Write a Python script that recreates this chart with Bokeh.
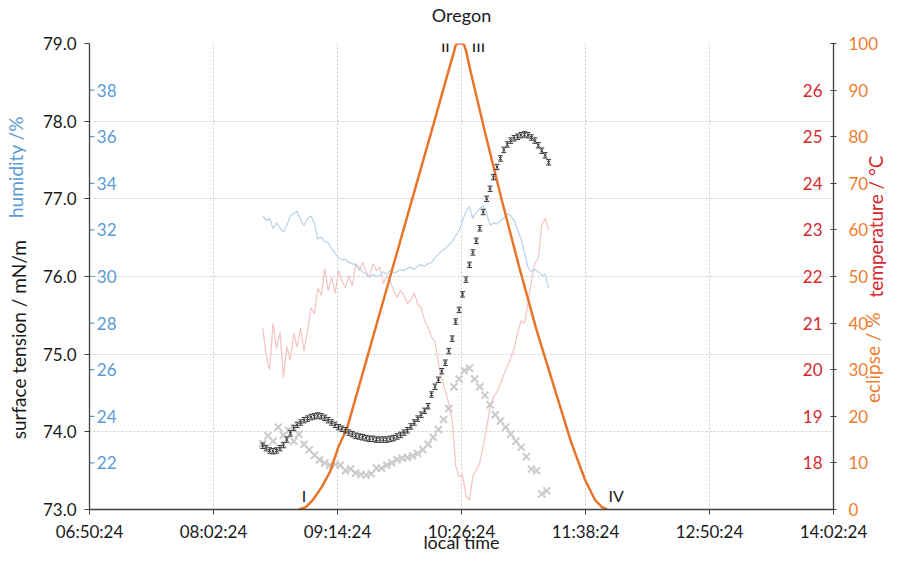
import numpy as np
import pandas as pd
from math import pi
from bokeh.plotting import figure
from bokeh.models import (Range1d, LinearAxis, FixedTicker, DatetimeTickFormatter,
                          NumeralTickFormatter, Label, Whisker, TeeHead, ColumnDataSource)
from bokeh.core.properties import value
from bokeh.embed import file_html
from bokeh.resources import INLINE

DAY = "2017-08-21"
FONT = "Lato"

# ---------------- data ----------------
x_tick_labels = ["06:50:24", "08:02:24", "09:14:24", "10:26:24", "11:38:24", "12:50:24", "14:02:24"]
st_ticks = [73, 74, 75, 76, 77, 78, 79]
hum_ticks = [22, 24, 26, 28, 30, 32, 34, 36, 38]
temp_ticks = [18, 19, 20, 21, 22, 23, 24, 25, 26]
ecl_ticks = [0, 10, 20, 30, 40, 50, 60, 70, 80, 90, 100]

# surface tension (mN/m), sampled every 2 min from 08:31
st_start, st_freq = "08:31", "2min"
st_vals = [73.82, 73.79, 73.76, 73.75, 73.76, 73.79, 73.83, 73.90, 73.98, 74.05,
           74.09, 74.12, 74.15, 74.17, 74.19, 74.20, 74.21, 74.20, 74.18, 74.15,
           74.12, 74.09, 74.06, 74.04, 74.02, 73.99, 73.97, 73.95, 73.94, 73.93,
           73.92, 73.91, 73.91, 73.90, 73.90, 73.90, 73.90, 73.91, 73.92, 73.94,
           73.96, 73.99, 74.02, 74.07, 74.12, 74.17, 74.22, 74.27, 74.33, 74.48,
           74.58, 74.67, 74.78, 74.89, 75.04, 75.20, 75.42, 75.57, 75.77, 75.96,
           76.15, 76.31, 76.46, 76.62, 76.83, 77.00, 77.13, 77.28, 77.41, 77.52,
           77.63, 77.70, 77.75, 77.78, 77.80, 77.82, 77.83, 77.82, 77.79, 77.75,
           77.69, 77.62, 77.56, 77.47]
st_err = 0.035

# second surface tension series (grey crosses), every 3 min from 08:31
st2_start, st2_freq = "08:31", "3min"
st2_vals = [73.85, 73.95, 73.88, 74.06, 73.96, 74.02, 73.88, 73.97, 73.84, 73.77,
            73.70, 73.64, 73.60, 73.57, 73.58, 73.57, 73.50, 73.52, 73.47, 73.45,
            73.44, 73.46, 73.53, 73.53, 73.57, 73.60, 73.64, 73.66, 73.67, 73.69,
            73.72, 73.77, 73.84, 73.93, 74.03, 74.16, 74.30, 74.58, 74.68, 74.79,
            74.82, 74.68, 74.58, 74.47, 74.35, 74.22, 74.14, 74.06, 73.97, 73.88,
            73.80, 73.68, 73.52, 73.50, 73.20, 73.24]

# humidity (%), every 2 min from 08:31
hum_start, hum_freq = "08:31", "2min"
hum_vals = [32.6, 32.4, 32.5, 32.06, 32.3, 32.1, 31.9, 32.2, 32.6, 32.7,
            32.8, 32.4, 32.2, 32.5, 32.6, 32.3, 31.6, 31.7, 31.5, 31.45,
            31.2, 31.0, 30.8, 30.7, 30.75, 30.6, 30.55, 30.5, 30.4, 30.2,
            30.1, 29.96, 30.1, 30.0, 30.04, 30.2, 30.1, 30.26, 30.15, 30.2,
            30.3, 30.25, 30.35, 30.4, 30.3, 30.45, 30.5, 30.45, 30.55, 30.6,
            30.8, 30.95, 31.1, 31.2, 31.35, 31.5, 31.75, 31.97, 32.4, 32.8,
            33.0, 32.5, 32.75, 32.9, 33.05, 32.7, 32.2, 32.3, 32.25, 32.4,
            32.5, 32.7, 32.6, 32.4, 32.0, 31.6, 31.0, 30.4, 30.2, 30.3,
            30.2, 30.04, 30.1, 29.5]

# temperature (°C), every 2 min from 08:31
temp_start, temp_freq = "08:31", "2min"
temp_vals = [20.9, 20.3, 20.0, 21.0, 20.45, 20.8, 19.83, 20.5, 20.2, 20.78,
             20.48, 20.9, 20.4, 20.84, 21.33, 21.2, 21.76, 21.6, 22.17, 21.7,
             21.98, 21.64, 22.13, 21.9, 21.76, 22.02, 21.8, 22.28, 22.13, 22.3,
             22.1, 21.98, 22.28, 22.13, 22.2, 21.85, 22.0, 21.9, 21.7, 21.55,
             21.7, 21.6, 21.42, 21.5, 21.64, 21.4, 21.33, 21.06, 20.9, 20.7,
             20.6, 20.13, 19.8, 19.55, 19.27, 18.9, 17.95, 17.7, 17.75, 17.3,
             17.2, 17.72, 17.85, 18.0, 18.35, 18.75, 19.2, 19.42, 19.52, 19.7,
             19.9, 20.07, 20.25, 20.45, 20.8, 21.05, 21.0, 21.42, 21.9, 22.28,
             22.4, 23.1, 23.25, 23.0]

# eclipse obscuration (%)
ecl_times = ["08:52", "08:56", "09:00", "09:05", "09:10", "09:15", "09:20", "09:30",
             "09:45", "10:00", "10:10", "10:18", "10:22", "10:23", "10:24", "10:27",
             "10:28", "10:29", "10:32", "10:40", "10:50", "11:00", "11:10", "11:20",
             "11:30", "11:38", "11:44", "11:48", "11:51"]
ecl_vals = [0, 0.5, 2, 4.7, 8, 13.5, 17.5, 30.5, 50, 69.5, 82.5, 93, 98.2, 99.6, 100, 100,
            99.6, 98.5, 93.5, 81, 66.1, 51.9, 38.5, 26.5, 14.5, 6.5, 2, 0.5, 0]

contact_labels = ["I", "II", "III", "IV"]
contact_times = ["08:52", "10:24", "10:27", "11:51"]


def ms(s):
    return pd.Timestamp(f"{DAY} {s}").value / 1e6


def grid_ms(start, freq, n):
    idx = pd.date_range(f"{DAY} {start}", periods=n, freq=freq)
    return idx.asi8 / 1e6


# ---------------- figure ----------------
W, H = 901, 555
ML, MT, MR, MB = 86, 43, 56, 46

x0, x1 = ms(x_tick_labels[0]), ms(x_tick_labels[-1])
p = figure(width=W, height=H, x_axis_type="datetime",
           x_range=Range1d(x0, x1), y_range=Range1d(73, 79),
           output_backend="svg", toolbar_location=None,
           min_border_left=ML, min_border_right=MR, min_border_top=MT, min_border_bottom=MB)
p.extra_y_ranges = {"hum": Range1d(20, 40), "temp": Range1d(17, 27), "ecl": Range1d(0, 100)}
p.outline_line_color = None
p.background_fill_color = "white"
p.border_fill_color = "white"

AX = "#404040"
BLUE = "#5B9BD5"
RED = "#D42A2F"
ORANGE = "#ED7D31"
TXT = "#1a1a1a"
TS = "19px"
NB = "\u00a0"

# x axis
xa = p.xaxis[0]
xa.ticker = FixedTicker(ticks=[ms(s) for s in x_tick_labels])
fmt = "%H:%M:%S"
xa.formatter = DatetimeTickFormatter(microseconds=fmt, milliseconds=fmt, seconds=fmt, minsec=fmt,
                                     minutes=fmt, hourmin=fmt, hours=fmt, days=fmt, months=fmt,
                                     years=fmt, context=None)
xa.major_label_text_font = FONT
xa.major_label_text_font_size = "17px"
xa.major_label_text_color = TXT
xa.major_tick_in = 0
xa.major_tick_out = 5
xa.minor_tick_line_color = None
xa.axis_line_color = AX
xa.major_tick_line_color = AX
xa.axis_line_width = 1.3
xa.major_label_standoff = 6
xa.axis_label = "local time"
xa.axis_label_standoff = -14
xa.axis_label_text_font = FONT
xa.axis_label_text_font_size = "18px"
xa.axis_label_text_font_style = "normal"
xa.axis_label_text_color = TXT

# left axis (surface tension)
ya = p.yaxis[0]
ya.ticker = FixedTicker(ticks=st_ticks)
ya.formatter = NumeralTickFormatter(format="0.0")
ya.major_label_text_font = FONT
ya.major_label_text_font_size = "17px"
ya.major_label_text_color = TXT
ya.major_tick_in = 0
ya.major_tick_out = 5
ya.minor_tick_line_color = None
ya.axis_line_color = AX
ya.major_tick_line_color = AX
ya.axis_line_width = 1.3
ya.major_label_standoff = 8

# right axis (eclipse)
ea = LinearAxis(y_range_name="ecl", ticker=FixedTicker(ticks=ecl_ticks))
ea.major_label_text_font = FONT
ea.major_label_text_font_size = "17px"
ea.major_label_text_color = ORANGE
ea.major_tick_in = 3
ea.major_tick_out = 3
ea.minor_tick_line_color = None
ea.axis_line_color = AX
ea.major_tick_line_color = AX
ea.axis_line_width = 1.3
ea.major_label_standoff = 12
p.add_layout(ea, "right")


def _bare(ax):
    ax.axis_line_color = None
    ax.major_tick_line_color = None
    ax.minor_tick_line_color = None
    ax.major_tick_in = 0
    ax.major_tick_out = 0
    ax.minor_tick_in = 0
    ax.minor_tick_out = 0
    return ax


# invisible axes (no line, no ticks) whose axis label carries a title text
def title_axis(side, text, color=TXT, standoff=0, size=TS):
    ax = _bare(LinearAxis(ticker=FixedTicker(ticks=[]), axis_label=text))
    ax.major_label_standoff = 0
    ax.axis_label_standoff = standoff
    ax.axis_label_text_font = FONT
    ax.axis_label_text_font_size = size
    ax.axis_label_text_font_style = "normal"
    ax.axis_label_text_color = color
    p.add_layout(ax, side)
    return ax


# invisible axes whose single rotated tick label carries a title text at a chosen height
def tick_title_axis(side, text, color, pos, standoff):
    ax = _bare(LinearAxis(ticker=FixedTicker(ticks=[pos]), major_label_overrides={pos: text}))
    ax.major_label_orientation = pi / 2
    ax.major_label_standoff = standoff
    ax.major_label_text_font = FONT
    ax.major_label_text_font_size = TS
    ax.major_label_text_color = color
    p.add_layout(ax, side)
    return ax


# chart title
title_axis("above", "Oregon", TXT, 18, "18px")
# two-coloured left title (non-breaking spaces slide each part along the axis)
title_axis("left", "surface tension / mN/m" + NB * 26, TXT, 10)
title_axis("left", NB * 45 + "humidity /%", BLUE, -23)
# two-coloured right title, each part starting at its own height
tick_title_axis("right", "eclipse / %", ORANGE, 74.37, -9)
tick_title_axis("right", "temperature / °C", RED, 75.73, -23)

# grids
for g in (p.xgrid[0], p.ygrid[0]):
    g.grid_line_color = "#cccccc"
    g.grid_line_dash = "2 2"
    g.grid_line_width = 1
p.xgrid[0].ticker = FixedTicker(ticks=[ms(s) for s in x_tick_labels])
p.ygrid[0].ticker = FixedTicker(ticks=st_ticks)

# inner tick labels: humidity (left, inside) and temperature (right, inside)
p.scatter(x=[x0] * len(hum_ticks), y=hum_ticks, marker="dash", size=10,
          line_color=BLUE, line_width=1.2, y_range_name="hum")
p.text(x=[x0] * len(hum_ticks), y=hum_ticks, text=[str(v) for v in hum_ticks],
       y_range_name="hum", x_offset=27, text_align="right", text_baseline="middle",
       text_color=BLUE, text_font=value(FONT), text_font_size="17px")
p.text(x=[x1] * len(temp_ticks), y=temp_ticks, text=[str(v) for v in temp_ticks],
       y_range_name="temp", x_offset=-11, text_align="right", text_baseline="middle",
       text_color=RED, text_font=value(FONT), text_font_size="17px")

# series
p.line(grid_ms(temp_start, temp_freq, len(temp_vals)), temp_vals, y_range_name="temp",
       line_color="#f5c2c2", line_width=1.2)
p.line(grid_ms(hum_start, hum_freq, len(hum_vals)), hum_vals, y_range_name="hum",
       line_color="#b9d2ea", line_width=1.2)
p.scatter(grid_ms(st2_start, st2_freq, len(st2_vals)), st2_vals, marker="x", size=10,
          line_color="#cbcbcb", line_width=2)

st_x = grid_ms(st_start, st_freq, len(st_vals))
src = ColumnDataSource(dict(x=st_x, y=st_vals,
                            lo=[v - st_err for v in st_vals], hi=[v + st_err for v in st_vals]))
wh = Whisker(source=src, base="x", lower="lo", upper="hi", dimension="height",
             line_color="#3a3a3a", line_width=1,
             lower_head=TeeHead(size=5, line_color="#3a3a3a", line_width=1),
             upper_head=TeeHead(size=5, line_color="#3a3a3a", line_width=1))
wh.level = "glyph"
p.add_layout(wh)
p.scatter("x", "y", source=src, marker="x", size=4, line_color="#3a3a3a", line_width=1)

p.line([ms(s) for s in ecl_times], ecl_vals, y_range_name="ecl",
       line_color="#E8762A", line_width=2.5)

# contact labels
offs = {"I": (5, 14), "II": (-12, -2), "III": (16, -2), "IV": (9, 14)}
for lab, tt in zip(contact_labels, contact_times):
    yv = 0 if lab in ("I", "IV") else 100
    dx, dy = offs[lab]
    p.add_layout(Label(x=ms(tt), y=yv, y_range_name="ecl", x_offset=dx, y_offset=dy,
                       text=lab, text_align="center", text_baseline="middle",
                       text_font=FONT, text_font_size="16px", text_color=TXT))

open("out.html", "w").write(file_html(p, INLINE))
